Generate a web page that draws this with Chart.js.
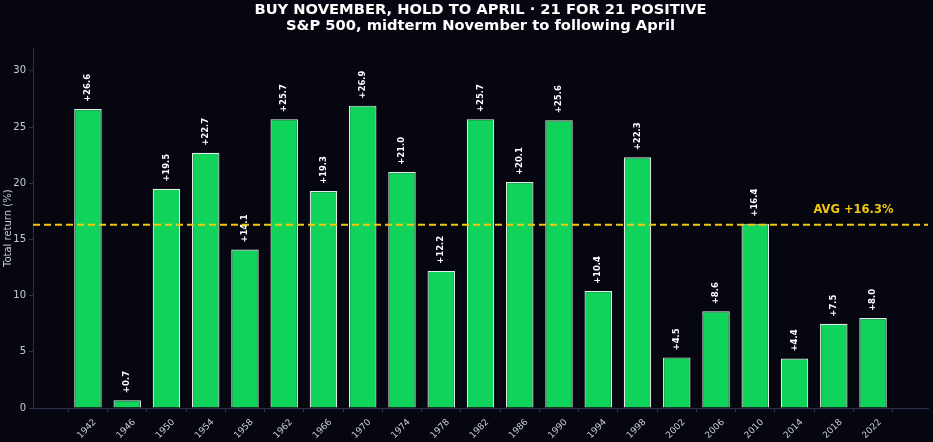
<!DOCTYPE html>
<html>
<head>
<meta charset="utf-8">
<script src="https://cdn.jsdelivr.net/npm/chart.js@4.4.0/dist/chart.umd.min.js"></script>
<style>
  html, body { margin: 0; padding: 0; background: #05060f; }
  #wrap { width: 933px; height: 442px; }
</style>
</head>
<body>
<div id="wrap"><canvas id="chart" width="933" height="442"></canvas></div>
<script>
// midterm election years, Nov -> following Apr S&P 500 total return (%)
const years = ['1942', '1946', '1950', '1954', '1958', '1962', '1966', '1970', '1974', '1978',
    '1982', '1986', '1990', '1994', '1998', '2002', '2006', '2010', '2014', '2018', '2022'];
const returns = [26.6, 0.7, 19.5, 22.7, 14.1, 25.7, 19.3, 26.9, 21.0, 12.2,
    25.7, 20.1, 25.6, 10.4, 22.3, 4.5, 8.6, 16.4, 4.4, 7.5, 8.0];
const yTicks = [0, 5, 10, 15, 20, 25, 30];
const yMax = 32;

const avg = returns.reduce((a, b) => a + b, 0) / returns.length;
const fontFamily = '"DejaVu Sans", sans-serif';
const tickColor = '#c9cbd6';
const axisColor = '#2c3148';

const valueLabels = {
    id: 'valueLabels',
    afterDatasetsDraw(chart) {
        const { ctx } = chart;
        const meta = chart.getDatasetMeta(0);
        ctx.save();
        ctx.fillStyle = '#ffffff';
        ctx.font = 'bold 8.5px ' + fontFamily;
        ctx.textAlign = 'left';
        ctx.textBaseline = 'middle';
        meta.data.forEach((bar, i) => {
            ctx.save();
            ctx.translate(bar.x, bar.y - 7);
            ctx.rotate(-Math.PI / 2);
            ctx.fillText('+' + returns[i].toFixed(1), 0, 0);
            ctx.restore();
        });
        ctx.restore();
    }
};

const avgLine = {
    id: 'avgLine',
    afterDatasetsDraw(chart) {
        const { ctx, chartArea, scales } = chart;
        const y = scales.y.getPixelForValue(avg);
        ctx.save();
        ctx.strokeStyle = '#f2c80f';
        ctx.lineWidth = 2;
        ctx.setLineDash([7, 4]);
        ctx.beginPath();
        ctx.moveTo(chartArea.left, y);
        ctx.lineTo(chartArea.right, y);
        ctx.stroke();
        ctx.setLineDash([]);
        ctx.fillStyle = '#f2c80f';
        ctx.font = 'bold 11.5px ' + fontFamily;
        ctx.textAlign = 'center';
        ctx.textBaseline = 'bottom';
        ctx.fillText('AVG +' + avg.toFixed(1) + '%', scales.x.getPixelForValue(19.5), y - 9);
        ctx.restore();
    }
};

const bgPlugin = {
    id: 'bg',
    beforeDraw(chart) {
        const { ctx } = chart;
        ctx.save();
        ctx.fillStyle = '#05060f';
        ctx.fillRect(0, 0, chart.width, chart.height);
        ctx.restore();
    }
};

new Chart(document.getElementById('chart'), {
    type: 'bar',
    data: {
        datasets: [{
            data: returns.map((v, i) => ({ x: i, y: v })),
            backgroundColor: '#0fd35a',
            borderColor: '#e6ece8',
            borderWidth: 1.2,
            categoryPercentage: 1,
            barPercentage: 0.7
        }]
    },
    options: {
        responsive: false,
        animation: false,
        layout: { padding: { top: 2, right: 5, left: 0, bottom: 0 } },
        plugins: {
            legend: { display: false },
            tooltip: { enabled: false },
            title: {
                display: true,
                fullSize: false,
                text: ['BUY NOVEMBER, HOLD TO APRIL \u00b7 21 FOR 21 POSITIVE', 'S&P 500, midterm November to following April'],
                color: '#ffffff',
                font: { family: fontFamily, size: 14.7, weight: 'bold', lineHeight: 1.1 },
                padding: { top: 0, bottom: 14 }
            }
        },
        scales: {
            x: {
                type: 'linear',
                offset: false,
                min: -1.4,
                max: years.length - 1 + 1.4,
                afterBuildTicks(scale) {
                    scale.ticks = years.map((_, i) => ({ value: i }));
                },
                afterFit(scale) { scale.height = 34; },
                ticks: {
                    color: tickColor,
                    font: { family: fontFamily, size: 9 },
                    minRotation: 45,
                    maxRotation: 45,
                    padding: 5,
                    labelOffset: 7,
                    callback: (v) => years[v]
                },
                grid: { drawOnChartArea: false, color: axisColor, tickLength: 4 },
                border: { color: axisColor, width: 1 }
            },
            y: {
                min: 0,
                max: yMax,
                afterBuildTicks(scale) {
                    scale.ticks = yTicks.map(v => ({ value: v }));
                },
                afterFit(scale) { scale.width = 33; },
                ticks: {
                    color: tickColor,
                    font: { family: fontFamily, size: 10 },
                    padding: 3
                },
                title: {
                    display: true,
                    text: 'Total return (%)',
                    color: tickColor,
                    font: { family: fontFamily, size: 10 },
                    padding: { top: 2, bottom: 0 }
                },
                grid: { drawOnChartArea: false, color: axisColor, tickLength: 4 },
                border: { color: axisColor, width: 1 }
            }
        }
    },
    plugins: [bgPlugin, valueLabels, avgLine]
});
</script>
</body>
</html>
